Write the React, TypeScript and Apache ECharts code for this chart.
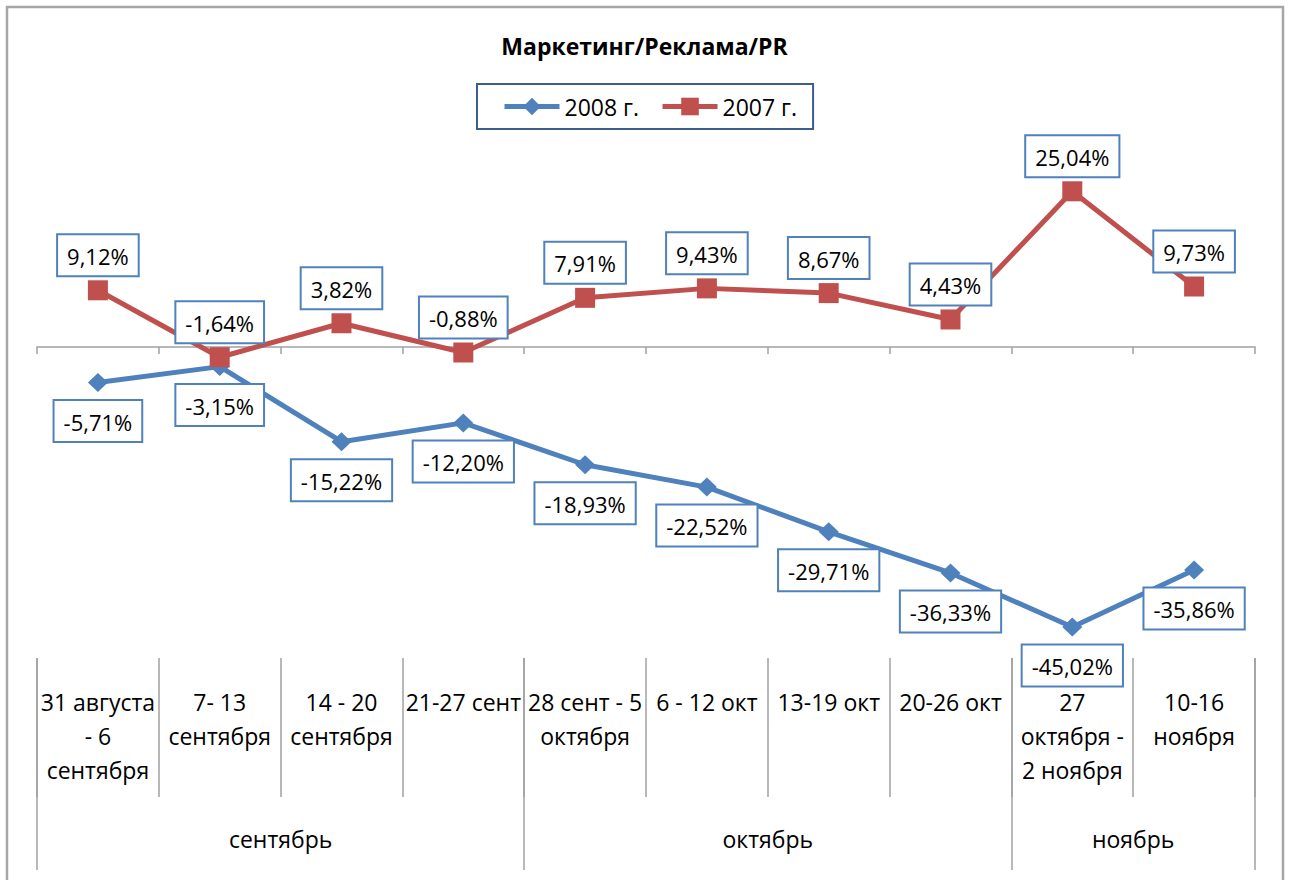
import React, { useEffect, useRef } from "react";
import * as echarts from "echarts";

const TITLE = "Маркетинг/Реклама/PR";
const categories = [
  "31 августа\n- 6\nсентября",
  "7- 13\nсентября",
  "14 - 20\nсентября",
  "21-27 сент",
  "28 сент - 5\nоктября",
  "6 - 12 окт",
  "13-19 окт",
  "20-26 окт",
  "27\nоктября -\n2 ноября",
  "10-16\nноября",
];
const groupNames = ["сентябрь", "октябрь", "ноябрь"];
const groupSizes = [4, 4, 2];
const series2008Name = "2008 г.";
const series2007Name = "2007 г.";
const values2008 = [-5.71, -3.15, -15.22, -12.2, -18.93, -22.52, -29.71, -36.33, -45.02, -35.86];
const values2007 = [9.12, -1.64, 3.82, -0.88, 7.91, 9.43, 8.67, 4.43, 25.04, 9.73];

const FONT = "'Open Sans', 'Noto Sans', sans-serif";
const BLUE = "#4F81BD";
const RED = "#C0504D";
const AXIS = "#A0A0A0";

export default function App() {
  const ref = useRef<HTMLDivElement>(null);
  useEffect(() => {
    if (!ref.current) return;
    const chart = echarts.init(ref.current, undefined, { renderer: "svg" });

    const boundaries: number[] = [0];
    const groupAxisData: string[] = new Array(categories.length + 1).fill("");
    let acc = 0;
    groupSizes.forEach((s, i) => {
      const mid = acc + s / 2;
      groupAxisData[mid] = groupNames[i];
      acc += s;
      boundaries.push(acc);
    });

    const fmt = (p: any) => p.value.toFixed(2).replace(".", ",") + "%";
    const labelStyle = {
      show: true,
      formatter: fmt,
      backgroundColor: "#fff",
      borderColor: BLUE,
      borderWidth: 2,
      padding: [6, 9, 5, 9],
      fontSize: 22,
      lineHeight: 29,
      color: "#000",
      fontFamily: FONT,
    };

    chart.setOption({
      animation: false,
      textStyle: { fontFamily: FONT },
      title: {
        text: TITLE,
        left: "center",
        top: 34,
        padding: 0,
        textStyle: { fontSize: 23, fontWeight: "bold", color: "#000", fontFamily: FONT },
      },
      legend: {
        left: 477,
        top: 84,
        padding: [11, 16, 11, 25],
        itemWidth: 55,
        itemHeight: 22,
        itemGap: 21,
        borderColor: "#3B5E8F",
        borderWidth: 2,
        lineStyle: { width: 5 },
        textStyle: { fontSize: 23, color: "#000", fontFamily: FONT },
        data: [series2008Name, series2007Name],
      },
      graphic: [
        {
          type: "rect",
          shape: { x: 7, y: 7, width: 1276, height: 900 },
          style: { fill: "none", stroke: "#A6A6A6", lineWidth: 2.5 },
          silent: true,
        },
      ],
      grid: { left: 37, right: 34, top: 148, bottom: 222, containLabel: false },
      xAxis: [
        {
          type: "category",
          data: categories,
          boundaryGap: true,
          axisLine: { show: true, onZero: true, lineStyle: { color: AXIS, width: 1.5 } },
          axisTick: { show: true, length: 7, lineStyle: { color: AXIS, width: 1.5 } },
          axisLabel: { show: false },
          splitLine: { show: false },
        },
        {
          type: "category",
          data: categories,
          position: "bottom",
          boundaryGap: true,
          axisLine: { show: false, onZero: false },
          axisTick: { show: true, length: 139, lineStyle: { color: AXIS, width: 1.5 } },
          axisLabel: {
            show: true,
            interval: 0,
            margin: 27,
            fontSize: 23,
            lineHeight: 34,
            color: "#000",
            fontFamily: FONT,
            verticalAlign: "top",
          },
          splitLine: { show: false },
        },
        {
          type: "category",
          data: groupAxisData,
          position: "bottom",
          boundaryGap: false,
          axisLine: { show: false, onZero: false },
          axisTick: {
            show: true,
            length: 212,
            interval: (idx: number) => boundaries.includes(idx),
            lineStyle: { color: AXIS, width: 1.5 },
          },
          axisLabel: {
            show: true,
            interval: 0,
            margin: 164,
            fontSize: 23,
            lineHeight: 34,
            color: "#000",
            fontFamily: FONT,
            verticalAlign: "top",
          },
          splitLine: { show: false },
        },
      ],
      yAxis: { type: "value", min: -50, max: 32, show: false, splitLine: { show: false } },
      series: [
        {
          name: series2008Name,
          type: "line",
          xAxisIndex: 0,
          data: values2008,
          color: BLUE,
          symbol: "diamond",
          symbolSize: [20, 19],
          lineStyle: { width: 5, color: BLUE },
          itemStyle: { color: BLUE },
          label: { ...labelStyle, position: "bottom", distance: 9 },
          z: 2,
        },
        {
          name: series2007Name,
          type: "line",
          xAxisIndex: 0,
          data: values2007,
          color: RED,
          symbol: "rect",
          symbolSize: 20,
          lineStyle: { width: 5, color: RED },
          itemStyle: { color: RED },
          label: { ...labelStyle, position: "top", distance: 5 },
          z: 3,
        },
      ],
    });
    return () => chart.dispose();
  }, []);
  return (
    <div
      ref={ref}
      style={{ position: "absolute", left: 0, top: 0, width: 1289, height: 880, overflow: "hidden" }}
    />
  );
}
